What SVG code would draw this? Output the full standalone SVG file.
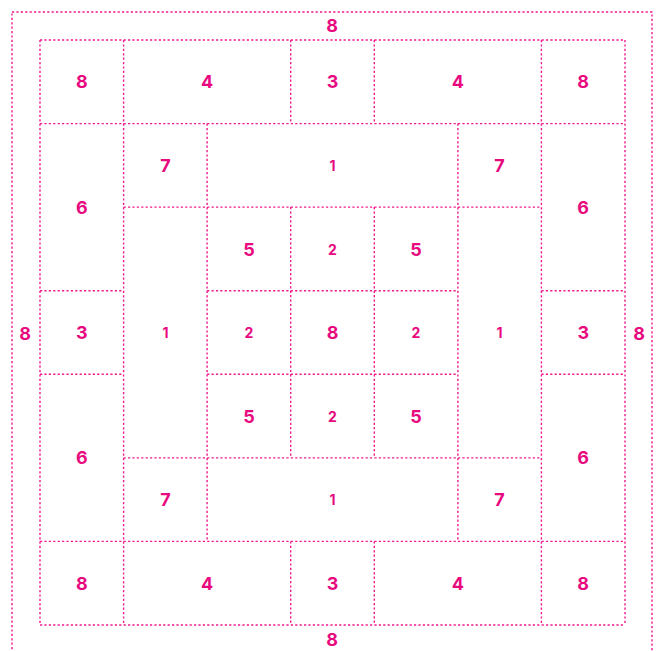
<svg xmlns="http://www.w3.org/2000/svg" width="657" height="651" viewBox="0 0 657 651">
<style>
.g{fill:none;stroke:#f0188e;stroke-width:1.4;stroke-dasharray:2.2 2.2}
text{font-family:"Inter","Noto Sans",sans-serif;font-weight:700;fill:#e8097f;text-anchor:middle;dominant-baseline:central;font-size:18px}
text.s{font-size:14px}
</style>
<rect width="657" height="651" fill="#fff"/>
<g id="grid">
<rect class="g" x="12" y="12" width="640" height="640"/>
<path class="g" d="M40 40H625M40 123.6H625M123.6 207.1H541.4M40 290.7H123.6M207.1 290.7H457.9M541.4 290.7H625M40 374.3H123.6M207.1 374.3H457.9M541.4 374.3H625M123.6 457.9H541.4M40 541.4H625M40 625H625M40 40V625M625 40V625M123.6 40V625M541.4 40V625M207.1 123.6V541.4M457.9 123.6V541.4M290.7 40V123.6M290.7 207.1V457.9M290.7 541.4V625M374.3 40V123.6M374.3 207.1V457.9M374.3 541.4V625"/>
</g>
<g id="border-top"><text x="332" y="25">8</text></g>
<g id="border-bottom"><text x="332" y="639">8</text></g>
<g id="border-left"><text x="25" y="333">8</text></g>
<g id="border-right"><text x="639" y="333">8</text></g>
<g id="r0c0"><text x="81.8" y="81.8">8</text></g>
<g id="r0c12"><text x="207.1" y="81.8">4</text></g>
<g id="r0c3"><text x="332.5" y="81.8">3</text></g>
<g id="r0c45"><text x="457.9" y="81.8">4</text></g>
<g id="r0c6"><text x="583.2" y="81.8">8</text></g>
<g id="r12c0"><text x="81.8" y="207.1">6</text></g>
<g id="r1c1"><text x="165.4" y="165.4">7</text></g>
<g id="r1c234"><text class="s" x="332.5" y="165.4">1</text></g>
<g id="r1c5"><text x="499.6" y="165.4">7</text></g>
<g id="r12c6"><text x="583.2" y="207.1">6</text></g>
<g id="r234c1"><text class="s" x="165.4" y="332.5">1</text></g>
<g id="r2c2"><text x="249" y="249">5</text></g>
<g id="r2c3"><text class="s" x="332.5" y="249">2</text></g>
<g id="r2c4"><text x="416" y="249">5</text></g>
<g id="r234c5"><text class="s" x="499.6" y="332.5">1</text></g>
<g id="r3c0"><text x="81.8" y="332.5">3</text></g>
<g id="r3c2"><text class="s" x="249" y="332.5">2</text></g>
<g id="r3c3"><text x="332.5" y="332.5">8</text></g>
<g id="r3c4"><text class="s" x="416" y="332.5">2</text></g>
<g id="r3c6"><text x="583.2" y="332.5">3</text></g>
<g id="r45c0"><text x="81.8" y="457.9">6</text></g>
<g id="r4c2"><text x="249" y="416">5</text></g>
<g id="r4c3"><text class="s" x="332.5" y="416">2</text></g>
<g id="r4c4"><text x="416" y="416">5</text></g>
<g id="r45c6"><text x="583.2" y="457.9">6</text></g>
<g id="r5c1"><text x="165.4" y="499.6">7</text></g>
<g id="r5c234"><text class="s" x="332.5" y="499.6">1</text></g>
<g id="r5c5"><text x="499.6" y="499.6">7</text></g>
<g id="r6c0"><text x="81.8" y="583.2">8</text></g>
<g id="r6c12"><text x="207.1" y="583.2">4</text></g>
<g id="r6c3"><text x="332.5" y="583.2">3</text></g>
<g id="r6c45"><text x="457.9" y="583.2">4</text></g>
<g id="r6c6"><text x="583.2" y="583.2">8</text></g>
</svg>
